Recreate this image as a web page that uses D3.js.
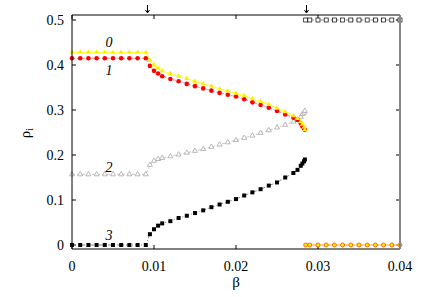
<!DOCTYPE html>
<html>
<head>
<meta charset="utf-8">
<script src="https://cdn.jsdelivr.net/npm/d3@7"></script>
<style>
  body { margin: 0; background: #fff; }
  text { font-family: 'Times New Roman', 'Liberation Serif', 'DejaVu Serif', serif; }
</style>
</head>
<body>
<div id="chart"></div>
<script>
// flat part (beta 0 .. 0.009)
var betaFlat = [0, 0.001, 0.002, 0.003, 0.004, 0.005, 0.006, 0.007, 0.008, 0.009];
var flat0 = 0.428, flat1 = 0.415, flat2 = 0.157, flat3 = 0.0;

// decaying / rising part
var betaMid = [0.0095, 0.010, 0.0105, 0.011, 0.012, 0.013, 0.014, 0.015, 0.016, 0.017,
               0.018, 0.019, 0.020, 0.021, 0.022, 0.023, 0.024, 0.025, 0.026, 0.027,
               0.0275, 0.0279, 0.0281, 0.0283, 0.0284];
var mid0 = [0.410, 0.400, 0.393, 0.387, 0.381, 0.375, 0.370, 0.364, 0.358, 0.353,
            0.347, 0.342, 0.337, 0.332, 0.325, 0.319, 0.312, 0.304, 0.296, 0.287,
            0.281, 0.274, 0.268, 0.262, 0.256];
var mid1 = [0.398, 0.387, 0.381, 0.375, 0.369, 0.364, 0.358, 0.353, 0.348, 0.343,
            0.338, 0.334, 0.330, 0.324, 0.317, 0.311, 0.305, 0.298, 0.290, 0.283,
            0.278, 0.270, 0.264, 0.259, 0.256];
var mid2 = [0.178, 0.187, 0.191, 0.193, 0.197, 0.201, 0.205, 0.209, 0.213, 0.218,
            0.223, 0.228, 0.233, 0.238, 0.243, 0.249, 0.255, 0.261, 0.267, 0.274,
            0.278, 0.285, 0.291, 0.294, 0.298];
var mid3 = [0.024, 0.035, 0.043, 0.048, 0.053, 0.060, 0.065, 0.071, 0.077, 0.084,
            0.090, 0.096, 0.102, 0.110, 0.117, 0.124, 0.132, 0.139, 0.150, 0.160,
            0.167, 0.176, 0.181, 0.186, 0.190];

// after the second transition
var betaHigh = [0.0285, 0.029, 0.030, 0.031, 0.032, 0.033, 0.034, 0.035, 0.036, 0.037, 0.038, 0.039, 0.040];
var highTop = 0.5, highBottom = 0.0;

var xTicks = [0, 0.01, 0.02, 0.03, 0.04];
var yTicks = [0, 0.1, 0.2, 0.3, 0.4, 0.5];
var arrowBeta = [0.0091, 0.0285];
var curveLabels = [
  { t: '0', b: 0.0045, v: 0.440 },
  { t: '1', b: 0.0045, v: 0.378 },
  { t: '2', b: 0.0045, v: 0.162 },
  { t: '3', b: 0.0045, v: 0.011 }
];

var W = 436, H = 297;
var x = d3.scaleLinear().domain([0, 0.04]).range([72, 400]);
var y = d3.scaleLinear().domain([-0.01, 0.51]).range([249.5, 15.5]);

var svg = d3.select('#chart').append('svg').attr('width', W).attr('height', H);

function pts(bs, vals) {
  return bs.map(function(b, i){ return { b: b, v: Array.isArray(vals) ? vals[i] : vals }; });
}
var s0 = pts(betaFlat, flat0).concat(pts(betaMid, mid0));
var s1 = pts(betaFlat, flat1).concat(pts(betaMid, mid1));
var s2 = pts(betaFlat, flat2).concat(pts(betaMid, mid2));
var s3 = pts(betaFlat, flat3).concat(pts(betaMid, mid3));
var sTop = pts(betaHigh, highTop);
var sBot = pts(betaHigh, highBottom);

var line = d3.line().x(function(d){ return x(d.b); }).y(function(d){ return y(d.v); });

// ticks (inward, mirrored)
var g = svg.append('g');
xTicks.forEach(function(t){
  g.append('line').attr('x1', x(t)).attr('x2', x(t)).attr('y1', 249).attr('y2', 245).attr('stroke', '#000');
  g.append('line').attr('x1', x(t)).attr('x2', x(t)).attr('y1', 15).attr('y2', 19).attr('stroke', '#000');
  g.append('text').attr('x', x(t)).attr('y', 271).attr('text-anchor', 'middle')
    .attr('font-size', 14).text(t === 0 ? '0' : d3.format('.2f')(t));
});
yTicks.forEach(function(t){
  g.append('line').attr('x1', 72).attr('x2', 76).attr('y1', y(t)).attr('y2', y(t)).attr('stroke', '#000');
  g.append('line').attr('x1', 400).attr('x2', 396).attr('y1', y(t)).attr('y2', y(t)).attr('stroke', '#000');
  g.append('text').attr('x', 64).attr('y', y(t) + 4.5).attr('text-anchor', 'end')
    .attr('font-size', 14).text(t === 0 ? '0' : d3.format('.1f')(t));
});

// lines
svg.append('path').datum(s2).attr('d', line).attr('fill', 'none')
  .attr('stroke', '#c8c8c8').attr('stroke-width', 1).attr('stroke-dasharray', '3,2');
svg.append('path').datum(s3).attr('d', line).attr('fill', 'none')
  .attr('stroke', '#888').attr('stroke-width', 1).attr('stroke-dasharray', '4,2,1,2');
svg.append('path').datum(s1).attr('d', line).attr('fill', 'none')
  .attr('stroke', '#ff9090').attr('stroke-width', 1).attr('stroke-dasharray', '3,2');
svg.append('path').datum(s0).attr('d', line).attr('fill', 'none')
  .attr('stroke', '#ffff40').attr('stroke-width', 1.2);
svg.append('path').datum(sTop).attr('d', line).attr('fill', 'none')
  .attr('stroke', '#666').attr('stroke-width', 0.8).attr('stroke-dasharray', '3,2');
svg.append('path').datum(sBot).attr('d', line).attr('fill', 'none')
  .attr('stroke', '#ffc080').attr('stroke-width', 1.5);

var tri = d3.symbol().type(d3.symbolTriangle).size(11);
var sq = d3.symbol().type(d3.symbolSquare).size(16);

// gray hollow triangles
svg.append('g').selectAll('path').data(s2).enter().append('path')
  .attr('d', tri).attr('transform', function(d){ return 'translate(' + x(d.b) + ',' + y(d.v) + ')'; })
  .attr('fill', '#fff').attr('stroke', '#a8a8a8').attr('stroke-width', 0.8);
// black squares
svg.append('g').selectAll('path').data(s3).enter().append('path')
  .attr('d', sq).attr('transform', function(d){ return 'translate(' + x(d.b) + ',' + y(d.v) + ')'; })
  .attr('fill', '#000');
// red circles
svg.append('g').selectAll('circle').data(s1).enter().append('circle')
  .attr('cx', function(d){ return x(d.b); }).attr('cy', function(d){ return y(d.v); })
  .attr('r', 2.3).attr('fill', '#ff0000');
// yellow triangles
svg.append('g').selectAll('path').data(s0).enter().append('path')
  .attr('d', tri).attr('transform', function(d){ return 'translate(' + x(d.b) + ',' + y(d.v) + ')'; })
  .attr('fill', '#ffee00');
// hollow squares at top
svg.append('g').selectAll('rect').data(sTop).enter().append('rect')
  .attr('x', function(d){ return x(d.b) - 2; }).attr('y', function(d){ return y(d.v) - 2; })
  .attr('width', 4).attr('height', 4).attr('fill', '#fff').attr('stroke', '#000').attr('stroke-width', 0.7);
// yellow/orange circles at bottom
svg.append('g').selectAll('circle').data(sBot).enter().append('circle')
  .attr('cx', function(d){ return x(d.b); }).attr('cy', function(d){ return y(d.v); })
  .attr('r', 2).attr('fill', '#ffee00').attr('stroke', '#ff5a00').attr('stroke-width', 0.9);

// frame
svg.append('path').attr('d', 'M400,15 H72 V249 H400').attr('fill', 'none').attr('stroke', '#000').attr('stroke-width', 1);
svg.append('line').attr('x1', 400).attr('x2', 400).attr('y1', 15).attr('y2', 249)
  .attr('stroke', '#888').attr('stroke-width', 2);

// arrows on top
arrowBeta.forEach(function(b){
  var ax = Math.round(x(b)) + 0.5;
  svg.append('line').attr('x1', ax).attr('x2', ax).attr('y1', 5).attr('y2', 12).attr('stroke', '#000');
  svg.append('path').attr('d', 'M' + (ax - 2) + ',10 L' + ax + ',13 L' + (ax + 2) + ',10')
    .attr('fill', 'none').attr('stroke', '#000');
});

// curve labels
curveLabels.forEach(function(c){
  svg.append('text').attr('x', x(c.b)).attr('y', y(c.v)).attr('text-anchor', 'middle')
    .attr('font-size', 14).attr('font-style', 'italic').text(c.t);
});

// axis titles
svg.append('text').attr('x', 236).attr('y', 287).attr('text-anchor', 'middle')
  .attr('font-size', 15).text('β');
var yl = svg.append('text').attr('transform', 'translate(30,133) rotate(-90)')
  .attr('text-anchor', 'middle').attr('font-size', 15);
yl.append('tspan').text('ρ');
yl.append('tspan').attr('font-size', 10).attr('dy', 3).text('i');
</script>
</body>
</html>
